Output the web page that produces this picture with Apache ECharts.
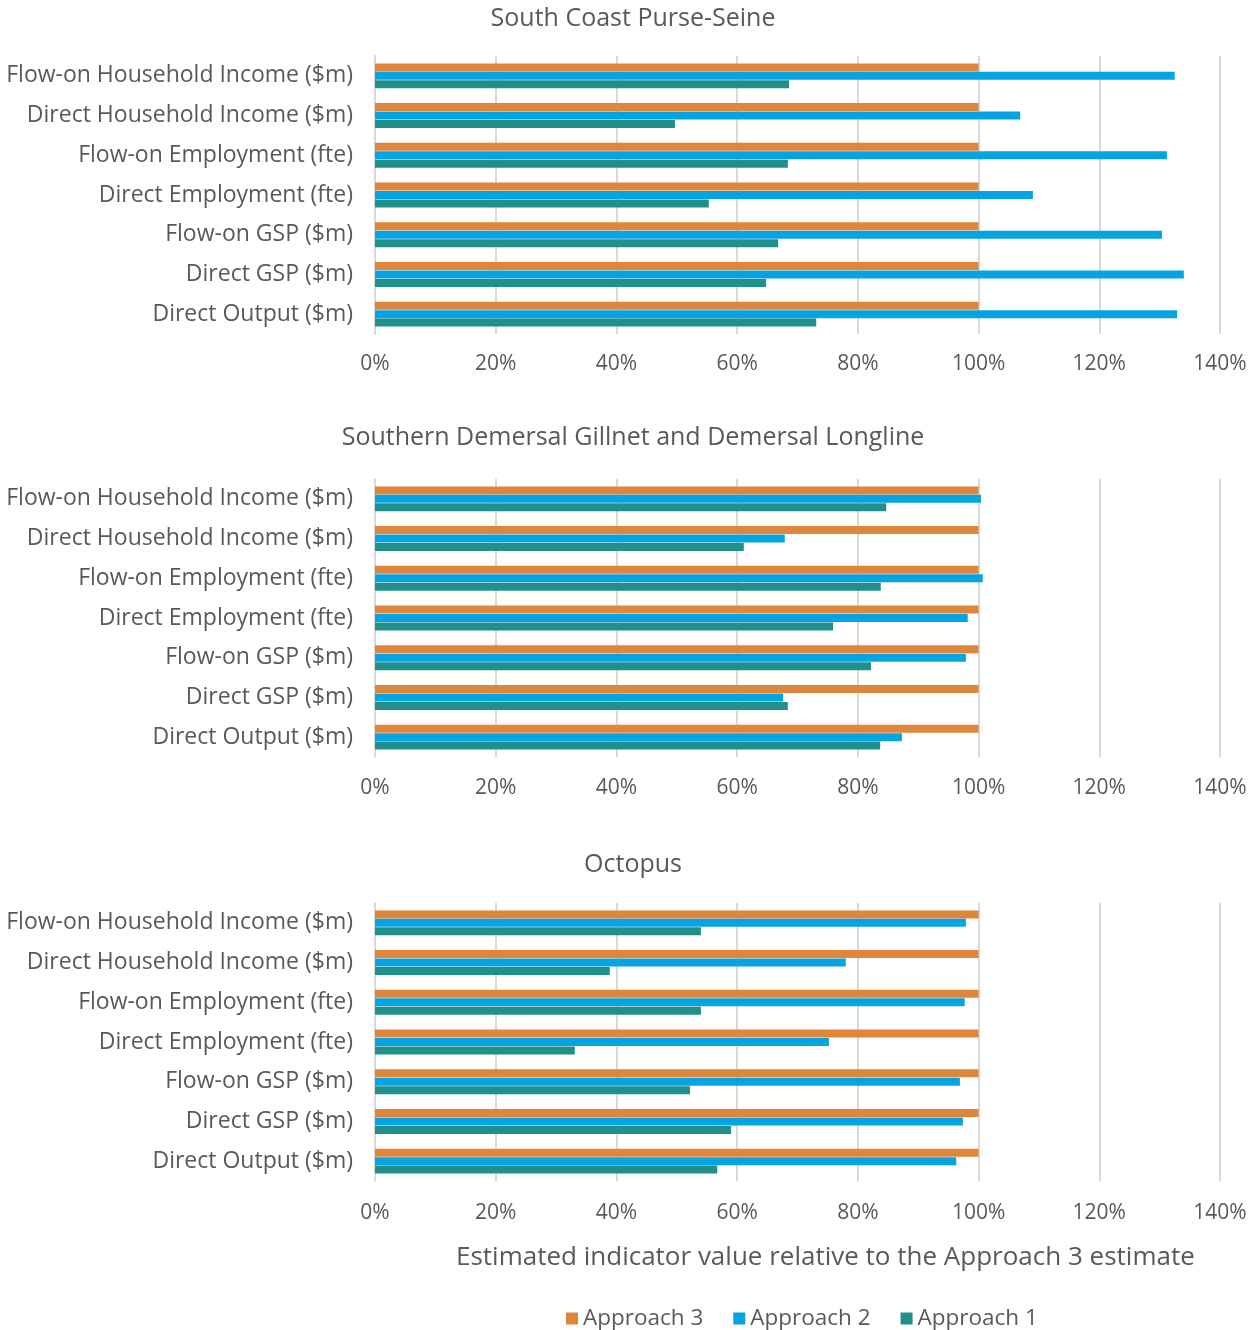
<!DOCTYPE html>
<html>
<head>
<meta charset="utf-8">
<script src="https://cdn.jsdelivr.net/npm/echarts@6/dist/echarts.min.js"></script>
<style>
  html, body { margin: 0; padding: 0; background: #fff; }
  #chart { width: 1258px; height: 1330px; }
</style>
</head>
<body>
<div id="chart"></div>
<script>
// categories, bottom to top (category axis starts at the bottom)
const categories = [
  "Direct Output ($m)",
  "Direct GSP ($m)",
  "Flow-on GSP ($m)",
  "Direct Employment (fte)",
  "Flow-on Employment (fte)",
  "Direct Household Income ($m)",
  "Flow-on Household Income ($m)"
];
const chartTitles = [
  "South Coast Purse-Seine",
  "Southern Demersal Gillnet and Demersal Longline",
  "Octopus"
];
const seriesNames = ["Approach 3", "Approach 2", "Approach 1"];
const xTicks = [0, 20, 40, 60, 80, 100, 120, 140];

// values in % of the Approach 3 estimate
const purseA1 = [73.1, 64.8, 66.8, 55.3, 68.4, 49.7, 68.6];
const purseA2 = [132.9, 134.0, 130.4, 109.0, 131.2, 106.9, 132.5];
const purseA3 = [100, 100, 100, 100, 100, 100, 100];

const demersalA1 = [83.7, 68.4, 82.2, 75.9, 83.8, 61.1, 84.7];
const demersalA2 = [87.3, 67.6, 97.9, 98.2, 100.7, 67.9, 100.4];
const demersalA3 = [100, 100, 100, 100, 100, 100, 100];

const octopusA1 = [56.7, 59.0, 52.2, 33.1, 54.0, 38.9, 54.0];
const octopusA2 = [96.3, 97.4, 96.9, 75.2, 97.7, 78.0, 97.9];
const octopusA3 = [100, 100, 100, 100, 100, 100, 100];

// first series is drawn on top within a category
const panels = [
  [purseA3, purseA2, purseA1],
  [demersalA3, demersalA2, demersalA1],
  [octopusA3, octopusA2, octopusA1]
];
const colors = ["#E0863A", "#04A4E2", "#21908C"];
const fontFamily = "'Open Sans', sans-serif";
const textColor = "#595959";
const gridTops = [56, 479, 903];
const titleTops = [1, 420, 847];
const labelMargins = [20, 21, 22];
const gridHeight = 278;

const chart = echarts.init(document.getElementById("chart"));

const option = {
  animation: false,
  textStyle: { fontFamily: fontFamily },
  title: chartTitles.map(function(t, i) {
    return {
      text: t,
      left: 628,
      textAlign: "center",
      top: titleTops[i],
      textStyle: { fontSize: 25, fontWeight: "normal", color: textColor, fontFamily: fontFamily }
    };
  }).concat([{
    text: "Estimated indicator value relative to the Approach 3 estimate",
    left: 451,
    top: 1240,
    textStyle: { fontSize: 26, fontWeight: "normal", color: textColor, fontFamily: fontFamily }
  }]),
  legend: {
    data: ["Approach 3", "Approach 2", "Approach 1"],
    left: 561,
    top: 1302,
    itemWidth: 12,
    itemHeight: 12,
    itemGap: 30,
    icon: "rect",
    textStyle: { fontSize: 22.5, color: textColor, fontFamily: fontFamily }
  },
  grid: gridTops.map(function(top) {
    return { left: 375, right: 38, top: top, height: gridHeight };
  }),
  xAxis: gridTops.map(function(top, i) {
    return {
      type: "value",
      gridIndex: i,
      min: xTicks[0],
      max: xTicks[xTicks.length - 1],
      interval: 20,
      axisLine: { show: false },
      axisTick: { show: false },
      splitLine: { lineStyle: { color: "#d9d9d9", width: 2 } },
      axisLabel: {
        formatter: "{value}%",
        fontSize: 21,
        color: textColor,
        margin: labelMargins[i],
        fontFamily: fontFamily
      }
    };
  }),
  yAxis: gridTops.map(function(top, i) {
    return {
      type: "category",
      gridIndex: i,
      data: categories,
      axisTick: { show: false },
      axisLine: { lineStyle: { color: "#d9d9d9", width: 2 } },
      axisLabel: {
        fontSize: 23,
        color: textColor,
        margin: 22,
        fontFamily: fontFamily
      }
    };
  }),
  series: []
};

panels.forEach(function(panel, p) {
  panel.forEach(function(vals, s) {
    option.series.push({
      name: seriesNames[s],
      type: "bar",
      xAxisIndex: p,
      yAxisIndex: p,
      data: vals,
      barWidth: 8,
      barGap: "6%",
      itemStyle: { color: colors[s] }
    });
  });
});

chart.setOption(option);
</script>
</body>
</html>
